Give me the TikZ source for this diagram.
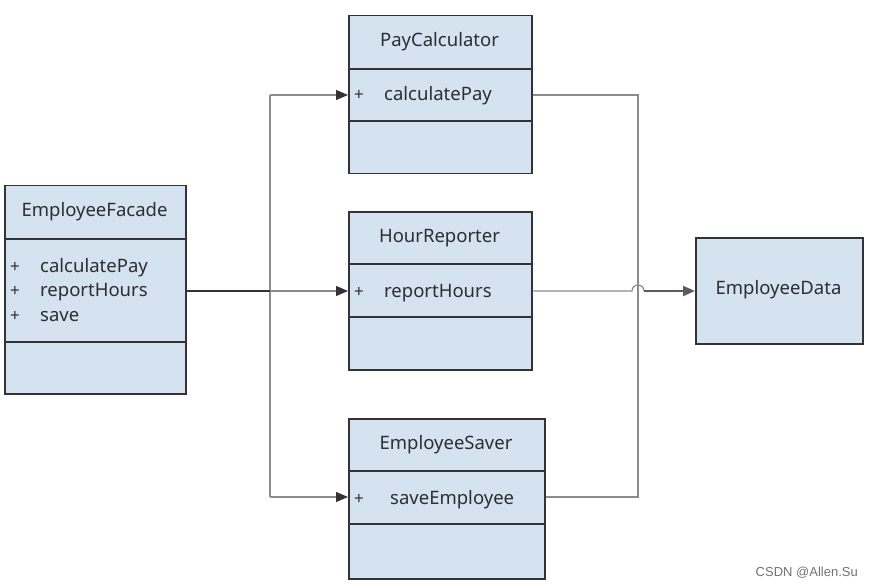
\documentclass[tikz,border=0pt]{standalone}
\usepackage{fontspec}
\setmainfont{Noto Sans}
\newfontfamily\wmfont{Liberation Sans}
\usetikzlibrary{arrows.meta}
\definecolor{boxfill}{RGB}{213,226,239}
\definecolor{boxline}{RGB}{50,50,55}
\definecolor{txt}{RGB}{45,45,50}
\definecolor{conn}{RGB}{140,140,140}
\tikzset{
  cls/.style={draw=boxline, line width=1.5pt, fill=boxfill, inner sep=0pt, anchor=north west},
  divider/.style={draw=boxline, line width=1.5pt},
  ttl/.style={font=\fontsize{18.5}{20}\selectfont, text=txt, inner sep=0pt},
  mem/.style={font=\fontsize{18.5}{20}\selectfont, text=txt, inner sep=0pt, anchor=base west},
  plus/.style={font=\fontsize{17}{19}\selectfont, text=txt, inner sep=0pt, anchor=base west},
  gline/.style={draw=conn, line width=1.2pt},
  garrow/.style={draw=conn, line width=1.2pt, -{Triangle[length=12pt,width=10pt,fill=boxline,color=boxline]}},
}
\begin{document}
\begin{tikzpicture}[x=1pt,y=-1pt]
\useasboundingbox (0,0) rectangle (872,588);
\fill[white] (0,0) rectangle (872,588);

% EmployeeFacade
\node[cls, minimum width=181pt, minimum height=208pt] (fac) at (4,185) {};
\draw[divider] (4,239) -- (185,239);
\draw[divider] (4,342) -- (185,342);
\node[ttl] (facT) at (94.5,212) {EmployeeFacade};
\node[plus] (facP1) at (10,272) {+};
\node[mem] (facM1) at (40,272) {calculatePay};
\node[plus] (facP2) at (10,296.5) {+};
\node[mem] (facM2) at (40,296.5) {reportHours};
\node[plus] (facP3) at (10,321) {+};
\node[mem] (facM3) at (40,321) {save};

% PayCalculator
\node[cls, minimum width=183pt, minimum height=158pt] (pc) at (348,15) {};
\draw[divider] (348,69) -- (531,69);
\draw[divider] (348,121) -- (531,121);
\node[ttl] (pcT) at (439.5,42) {PayCalculator};
\node[plus] (pcP) at (354,101) {+};
\node[mem] (pcM) at (384,101) {calculatePay};

% HourReporter
\node[cls, minimum width=183pt, minimum height=158pt] (hr) at (348,211) {};
\draw[divider] (348,264) -- (531,264);
\draw[divider] (348,317) -- (531,317);
\node[ttl] (hrT) at (439.5,238) {HourReporter};
\node[plus] (hrP) at (354,297) {+};
\node[mem] (hrM) at (384,297) {reportHours};

% EmployeeSaver
\node[cls, minimum width=196pt, minimum height=160pt] (es) at (348,418) {};
\draw[divider] (348,471) -- (544,471);
\draw[divider] (348,524) -- (544,524);
\node[ttl] (esT) at (446,445) {EmployeeSaver};
\node[plus] (esP) at (354,504) {+};
\node[mem] (esM) at (390,504) {saveEmployee};

% EmployeeData
\node[cls, minimum width=167pt, minimum height=106pt] (ed) at (695,237) {};
\node[ttl] (edT) at (778.5,290) {EmployeeData};

% left connectors
\coordinate (jm) at (270,291);
\coordinate (jt) at (270,95);
\coordinate (jb) at (270,497);
\draw[gline] (jt) -- (jb);
\draw[draw=boxline, line width=1.5pt] (fac.east |- jm) -- (jm);
\draw[garrow] (jm) -- (hr.west |- jm);
\draw[garrow] (jt) -- (pc.west |- jt);
\draw[garrow] (jb) -- (es.west |- jb);

% right connectors
\coordinate (rt) at (638,95);
\coordinate (rb) at (638,497);
\coordinate (hopA) at (632,291);
\coordinate (hopB) at (644,291);
\draw[gline] (pc.east |- rt) -- (rt) -- (rb) -- (es.east |- rb);
\draw[gline] (hr.east |- hopA) -- (hopA) arc[start angle=180, end angle=0, radius=6pt];
\draw[draw=boxline!80, line width=2pt, -{Triangle[length=12pt,width=10pt]}] (hopB) -- (ed.west |- hopB);

% watermark
\node[font=\wmfont\fontsize{13}{15}\selectfont, text=black!55, inner sep=0pt, anchor=east] (wm) at (858,573) {CSDN @Allen.Su};
\end{tikzpicture}
\end{document}
